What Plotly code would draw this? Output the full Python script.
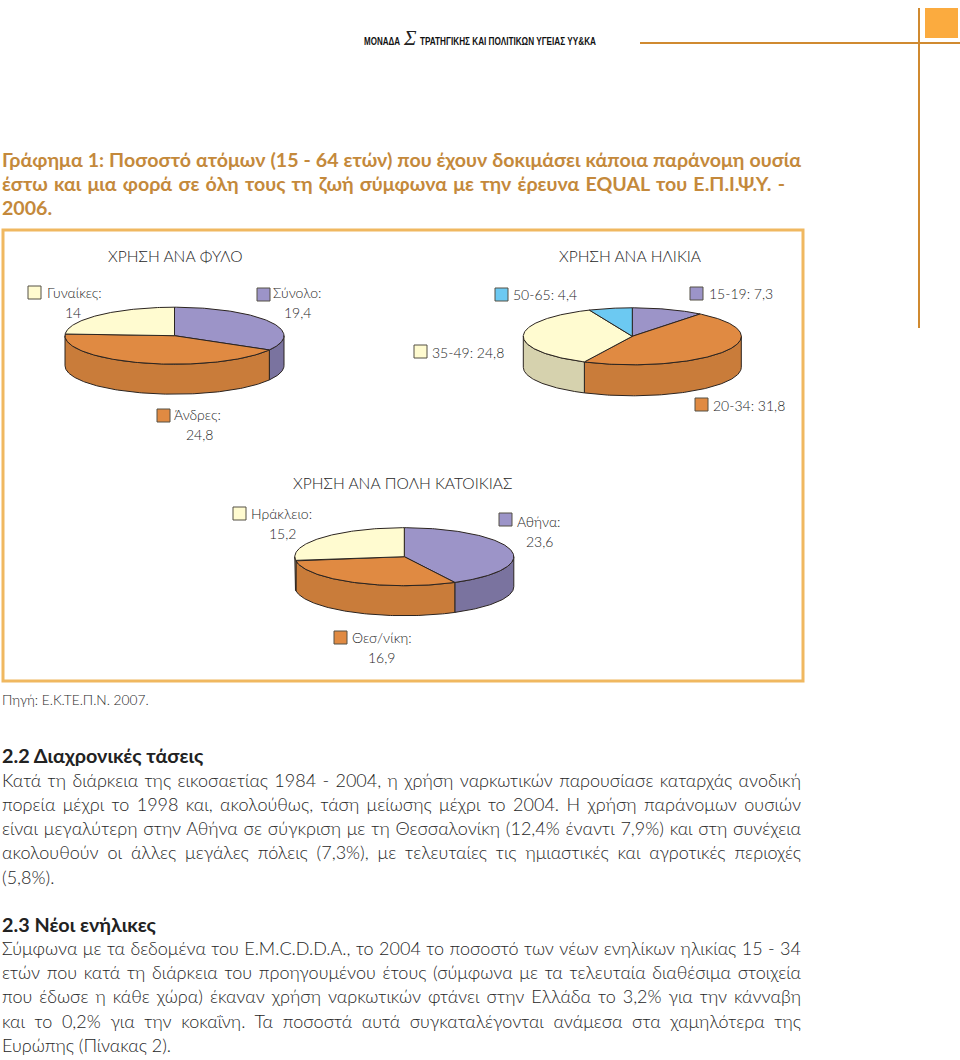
import json
import math
import plotly.graph_objects as go

# ---- data ----
sex_labels = ["Σύνολο:", "Άνδρες:", "Γυναίκες:"]
sex_values = [19.4, 24.8, 14]
age_labels = ["15-19", "20-34", "35-49", "50-65"]
age_values = [7.3, 31.8, 24.8, 4.4]
city_labels = ["Αθήνα:", "Θεσ/νίκη:", "Ηράκλειο:"]
city_values = [23.6, 16.9, 15.2]

PURPLE = ("#9c94c8", "#7a739f")
ORANGE = ("#e08a42", "#c97c3a")
CREAM = ("#fffbd0", "#d6d2ae")
BLUE = ("#6cc9f2", "#5aa8cc")
EDGE = "#2b2420"
TXT = "#262626"
BORDER = "#f0b860"
ACC = "#d08a30"
FONT = "Lato"

title_lines = [
    "Γράφημα 1: Ποσοστό ατόμων (15 - 64 ετών) που έχουν δοκιμάσει κάποια παράνομη ουσία",
    "έστω και μια φορά σε όλη τους τη ζωή σύμφωνα με την έρευνα EQUAL του Ε.Π.Ι.Ψ.Υ. -",
    "2006.",
]
body_a = [
    "Κατά τη διάρκεια της εικοσαετίας 1984 - 2004, η χρήση ναρκωτικών παρουσίασε καταρχάς ανοδική",
    "πορεία μέχρι το 1998 και, ακολούθως, τάση μείωσης μέχρι το 2004. Η χρήση παράνομων ουσιών",
    "είναι μεγαλύτερη στην Αθήνα σε σύγκριση με τη Θεσσαλονίκη (12,4% έναντι 7,9%) και στη συνέχεια",
    "ακολουθούν οι άλλες μεγάλες πόλεις (7,3%), με τελευταίες τις ημιαστικές και αγροτικές περιοχές",
    "(5,8%).",
]
body_b = [
    "Σύμφωνα με τα δεδομένα του Ε.Μ.C.D.D.A., το 2004 το ποσοστό των νέων ενηλίκων ηλικίας 15 - 34",
    "ετών που κατά τη διάρκεια του προηγουμένου έτους (σύμφωνα με τα τελευταία διαθέσιμα στοιχεία",
    "που έδωσε η κάθε χώρα) έκαναν χρήση ναρκωτικών φτάνει στην Ελλάδα το 3,2% για την κάνναβη",
    "και το 0,2% για την κοκαΐνη. Τα ποσοστά αυτά συγκαταλέγονται ανάμεσα στα χαμηλότερα της",
    "Ευρώπης (Πίνακας 2).",
]
header_a = "ΜΟΝΑΔΑ"
header_b = "ΤΡΑΤΗΓΙΚΗΣ ΚΑΙ ΠΟΛΙΤΙΚΩΝ ΥΓΕΙΑΣ ΥΥ&ΚΑ"

fig = go.Figure()


def pie3d(values, colors, cx, cy, rx, ry, depth):
    total = sum(values)
    a0 = 0.0
    sides, tops = [], []
    for v, col in zip(values, colors):
        a1 = a0 + 360.0 * v / total
        n = max(2, int(a1 - a0) + 1)
        angs = [math.radians(a0 + (a1 - a0) * i / n) for i in range(n + 1)]
        tx = [cx + rx * math.sin(t) for t in angs]
        ty = [cy - ry * math.cos(t) for t in angs]
        tops.append(([cx] + tx + [cx], [cy] + ty + [cy], col[0]))
        lo, hi = max(a0, 90.0), min(a1, 270.0)
        if hi > lo:
            m = max(2, int(hi - lo) + 1)
            fr = [math.radians(lo + (hi - lo) * i / m) for i in range(m + 1)]
            fx = [cx + rx * math.sin(t) for t in fr]
            fy = [cy - ry * math.cos(t) for t in fr]
            sides.append((fx + fx[::-1] + fx[:1],
                          fy + [y + depth for y in fy[::-1]] + fy[:1], col[1]))
        a0 = a1
    for x, y, c in sides + tops:
        fig.add_trace(go.Scatter(x=x, y=y, mode="lines", fill="toself", fillcolor=c,
                                 line=dict(color=EDGE, width=1), hoverinfo="skip", showlegend=False))


pie3d(sex_values, [PURPLE, ORANGE, CREAM], 174.5, 335.7, 109.5, 28.5, 30)
pie3d(age_values, [PURPLE, ORANGE, CREAM, BLUE], 632.3, 336.3, 109, 28.5, 31)
pie3d(city_values, [PURPLE, ORANGE, CREAM], 404.3, 556.7, 109.5, 29, 30)

shapes = [
    dict(type="rect", x0=3, x1=803, y0=230, y1=681, line=dict(color=BORDER, width=3)),
    dict(type="line", x0=919, x1=919, y0=8, y1=328, line=dict(color=ACC, width=2)),
    dict(type="line", x0=640, x1=960, y0=43, y1=43, line=dict(color=ACC, width=2)),
    dict(type="rect", x0=925, x1=958, y0=8, y1=38, fillcolor="#fbab3f", line=dict(width=0)),
]
for x, y, c in [(28, 286, CREAM), (257, 288, PURPLE), (157, 409, ORANGE),
                (495, 288, BLUE), (690, 287, PURPLE), (414, 345, CREAM), (695, 398, ORANGE),
                (233, 507, CREAM), (499, 513, PURPLE), (334, 631, ORANGE)]:
    shapes.append(dict(type="rect", x0=x, x1=x + 13, y0=y, y1=y + 13, fillcolor=c[0],
                       line=dict(color="#555045", width=1)))

ann = []


def t(x, y, s, size=14, anchor="left", color=TXT, weight=300, family=FONT, italic=False):
    ann.append(dict(x=x - 2 if anchor == "left" else x, y=y, text=s, showarrow=False,
                    xanchor=anchor, yanchor="middle",
                    font=dict(size=size, color=color, family=family, weight=weight,
                              style="italic" if italic else "normal")))


t(175, 256, "ΧΡΗΣΗ ΑΝΑ ΦΥΛΟ", 15.6, "center")
t(630, 256, "ΧΡΗΣΗ ΑΝΑ ΗΛΙΚΙΑ", 15.6, "center")
t(402, 483, "ΧΡΗΣΗ ΑΝΑ ΠΟΛΗ ΚΑΤΟΙΚΙΑΣ", 15.6, "center")


def val(v):
    return f"{v}".replace(".", ",")


t(47, 292, sex_labels[2]); t(73, 312, val(sex_values[2]), 14, "center")
t(273, 292, sex_labels[0]); t(297, 312, val(sex_values[0]), 14, "center")
t(174, 414, sex_labels[1]); t(199, 434, val(sex_values[1]), 14, "center")
t(513, 294, f"{age_labels[3]}: {val(age_values[3])}")
t(709, 293, f"{age_labels[0]}: {val(age_values[0])}")
t(432, 352, f"{age_labels[2]}: {val(age_values[2])}")
t(713, 405, f"{age_labels[1]}: {val(age_values[1])}")
t(251, 513, city_labels[2]); t(282, 533, val(city_values[2]), 14, "center")
t(517, 521, city_labels[0]); t(539, 541, val(city_values[0]), 14, "center")
t(352, 637, city_labels[1]); t(381, 657, val(city_values[1]), 14, "center")

t(364, 41, header_a, 10, color="#111", weight=700, family="Liberation Sans")
t(403, 38, "Σ", 21, color="#222", weight=400, family="Liberation Serif", italic=True)
t(419.5, 41, header_b, 10, color="#111", weight=700, family="Liberation Sans")

for y, s in zip([159, 183, 207], title_lines):
    t(2, y, s, 19.6, color="#c4893b", weight=700)
t(2, 699, "Πηγή: Ε.Κ.ΤΕ.Π.Ν. 2007.", 13.7)
t(2, 755, "2.2 Διαχρονικές τάσεις", 19.8, color="#222", weight=700)
for y, s in zip([780, 804, 828, 852, 877], body_a):
    t(2, y, s, 18)
t(2, 924, "2.3 Νέοι ενήλικες", 19.8, color="#222", weight=700)
for y, s in zip([948, 972, 996, 1021, 1045], body_b):
    t(2, y, s, 18)

fig.update_layout(
    width=960, height=1060, margin=dict(l=0, r=0, t=0, b=0), paper_bgcolor="white",
    plot_bgcolor="white", showlegend=False, shapes=shapes, annotations=ann,
    xaxis=dict(range=[0, 960], visible=False, fixedrange=True),
    yaxis=dict(range=[1060, 0], visible=False, fixedrange=True),
)

# text lines in the source are justified: stretch word gaps to each line's printed width
word_fit = {s: 799 for s in body_a[:4] + body_b[:4]}
word_fit[title_lines[0]] = 799
word_fit[title_lines[1]] = 783
glyph_fit = {header_a: 36, header_b: 176}
post = """
document.body.style.margin='0';document.body.style.overflow='hidden';
var wf=%s, gf=%s;
document.querySelectorAll('.annotation-text').forEach(function(el){
  var s=el.textContent, w=el.getComputedTextLength();
  if(wf[s]){
    var n=s.split(' ').length-1, d=wf[s]-w;
    el.style.wordSpacing=(d/n)+'px';
    el.setAttribute('x',(parseFloat(el.getAttribute('x'))||0)+d/2);
  } else if(gf[s]){
    el.setAttribute('textLength',gf[s]);
    el.setAttribute('lengthAdjust','spacingAndGlyphs');
    el.setAttribute('x',(parseFloat(el.getAttribute('x'))||0)+(gf[s]-w)/2);
  }
});
""" % (json.dumps(word_fit, ensure_ascii=False), json.dumps(glyph_fit, ensure_ascii=False))
fig.write_html("out.html", config=dict(displayModeBar=False), post_script=post)
